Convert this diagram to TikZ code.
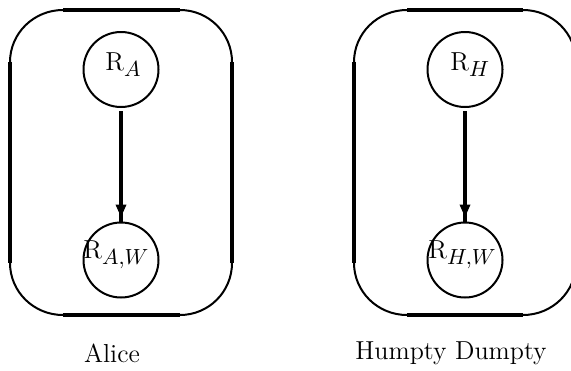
\documentclass[tikz,border=0pt]{standalone}
\usetikzlibrary{arrows.meta,decorations.markings}
\DeclareMathSizes{13}{13}{10.5}{8}
\begin{document}
\begin{tikzpicture}[x=0.5pt,y=-0.5pt,
  arcline/.style={line width=1pt},
  sideline/.style={line width=1.7pt},
  var/.style={circle,draw,line width=1pt,minimum size=37.5pt,inner sep=0pt},
  vlabel/.style={anchor=base west,inner sep=0pt,font=\fontsize{13}{15}\selectfont},
  caption/.style={anchor=base,inner sep=0pt,font=\fontsize{13}{15}\selectfont},
  conn/.style={line width=2pt,shorten <=1.5pt,
    decoration={markings,mark=at position -2pt with {\arrow{Triangle[length=6.5pt,width=5pt]}}},
    postaction={decorate}}]
\useasboundingbox (0,0) rectangle (571,370);
% left plate
\draw[sideline] (63,10) -- (180,10);
\draw[sideline] (63,315) -- (180,315);
\draw[sideline] (10,62) -- (10,263);
\draw[sideline] (232,62) -- (232,263);
\draw[arcline] (10,62) arc[start angle=180,end angle=90,x radius=53,y radius=-52];
\draw[arcline] (180,10) arc[start angle=90,end angle=0,x radius=52,y radius=-52];
\draw[arcline] (10,263) arc[start angle=180,end angle=270,x radius=53,y radius=-52];
\draw[arcline] (180,315) arc[start angle=270,end angle=360,x radius=52,y radius=-52];
% right plate
\draw[sideline] (407,10) -- (523,10);
\draw[sideline] (407,315) -- (523,315);
\draw[sideline] (354,62) -- (354,263);
\draw[sideline] (576,62) -- (576,263);
\draw[arcline] (354,62) arc[start angle=180,end angle=90,x radius=53,y radius=-52];
\draw[arcline] (523,10) arc[start angle=90,end angle=0,x radius=53,y radius=-52];
\draw[arcline] (354,263) arc[start angle=180,end angle=270,x radius=53,y radius=-52];
\draw[arcline] (523,315) arc[start angle=270,end angle=360,x radius=53,y radius=-52];
% nodes
\node[var] (ra) at (121,69.5) {};
\node[var] (raw) at (121,260) {};
\node[var] (rh) at (465,69.5) {};
\node[var] (rhw) at (465,260) {};
\node[vlabel] (ta) at (105,70) {R$_A$};
\node[vlabel] (taw) at (83,258) {R$_{A,W}$};
\node[vlabel] (th) at (450,70) {R$_H$};
\node[vlabel] (thw) at (428,258) {R$_{H,W}$};
\draw[conn] (ra) -- (raw);
\draw[conn] (rh) -- (rhw);
\node[caption] (alice) at (112,362) {Alice};
\node[caption] (humpty) at (451,359) {Humpty Dumpty};
\end{tikzpicture}
\end{document}
